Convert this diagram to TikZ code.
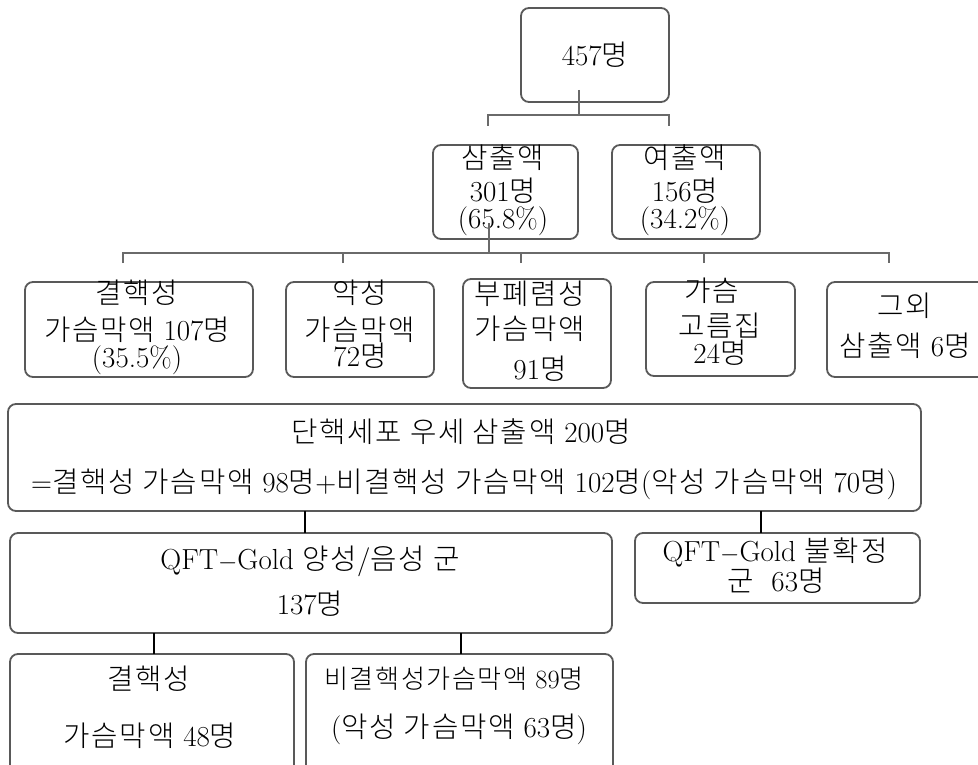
\documentclass[tikz,border=0pt]{standalone}
\usepackage{fontspec}
\newfontfamily\krfont{Noto Sans CJK KR Light}[Scale=0.99,LetterSpace=6]
\newcommand\hk[1]{{\krfont #1}}
\definecolor{boxgray}{HTML}{595959}
\definecolor{conngray}{HTML}{6A6A6A}
\tikzset{
  box/.style={draw=boxgray, line width=1.8pt, rounded corners=8pt, inner sep=0pt, outer sep=0pt},
  txt/.style={inner sep=0pt, anchor=center, text height=19pt, text depth=1pt, font=\fontsize{29}{32}\selectfont},
  conn/.style={draw=conngray, line width=2.2pt},
  connb/.style={draw=black, line width=1.3pt},
}
\begin{document}
\begin{tikzpicture}[x=1pt,y=-1pt]
\useasboundingbox (0,0) rectangle (978,765);
\clip (0,0) rectangle (978,765);
% boxes
\node[box, minimum width=148pt, minimum height=94pt] (b0) at (595,55) {};
\node[box, minimum width=145pt, minimum height=94pt] (b1) at (505.5,192) {};
\node[box, minimum width=148pt, minimum height=94pt] (b2) at (686,192) {};
\node[box, minimum width=228pt, minimum height=95pt] (b3) at (139,329.5) {};
\node[box, minimum width=148pt, minimum height=95pt] (b4) at (360,329.5) {};
\node[box, minimum width=148pt, minimum height=109pt] (b5) at (537,333.5) {};
\node[box, minimum width=149pt, minimum height=94pt] (b6) at (720.5,329) {};
\node[box, minimum width=163pt, minimum height=95pt] (b7) at (908.5,329.5) {};
\node[box, minimum width=913pt, minimum height=107pt] (b8) at (464.5,457.5) {};
\node[box, minimum width=602pt, minimum height=100pt] (b9) at (311,583) {};
\node[box, minimum width=285pt, minimum height=70pt] (b10) at (777.5,568) {};
\node[box, minimum width=284pt, minimum height=126pt] (b11) at (152,717) {};
\node[box, minimum width=307pt, minimum height=126pt] (b12) at (459.5,717) {};
% texts
\node[txt] (t0) at (595,57) {457\hk{명}};
\node[txt] (t1a) at (503,160) {\hk{삼출액}};
\node[txt] (t1b) at (503,193) {301\hk{명}};
\node[txt] (t1c) at (503,220) {(65.8\%)};
\node[txt] (t2a) at (685,160) {\hk{여출액}};
\node[txt] (t2b) at (685,193) {156\hk{명}};
\node[txt] (t2c) at (685,220) {(34.2\%)};
\node[txt] (t3a) at (137,294) {\hk{결핵성}};
\node[txt] (t3b) at (137,331) {\hk{가슴막액} 107\hk{명}};
\node[txt] (t3c) at (137,358) {(35.5\%)};
\node[txt] (t4a) at (360,294) {\hk{악성}};
\node[txt] (t4b) at (360,331) {\hk{가슴막액}};
\node[txt] (t4c) at (360,357) {72\hk{명}};
\node[txt] (t5a) at (530,295) {\hk{부폐렴성}};
\node[txt] (t5b) at (530,330) {\hk{가슴막액}};
\node[txt] (t5c) at (540,370) {91\hk{명}};
\node[txt] (t6a) at (712,292) {\hk{가슴}};
\node[txt] (t6b) at (720,327) {\hk{고름집}};
\node[txt] (t6c) at (720,354) {24\hk{명}};
\node[txt] (t7a) at (905,307) {\hk{그외}};
\node[txt] (t7b) at (905,347) {\hk{삼출액} 6\hk{명}};
\node[txt] (t8a) at (461,433) {\hk{단핵세포 우세 삼출액} 200\hk{명}};
\node[txt] (t8b) at (464,483) {=\hk{결핵성 가슴막액} 98\hk{명}+\hk{비결핵성 가슴막액} 102\hk{명}(\hk{악성 가슴막액} 70\hk{명})};
\node[txt] (t9a) at (310,560) {QFT$-$Gold \hk{양성}/\hk{음성 군}};
\node[txt] (t9b) at (310,605) {137\hk{명}};
\node[txt] (t10a) at (775,552) {QFT$-$Gold \hk{불확정}};
\node[txt] (t10b) at (776,582) {\hk{군}\ \ 63\hk{명}};
\node[txt] (t11a) at (149,680) {\hk{결핵성}};
\node[txt] (t11b) at (150,737) {\hk{가슴막액} 48\hk{명}};
\node[txt, scale=0.91] (t12a) at (454,680) {\hk{비결핵성가슴막액} 89\hk{명}};
\node[txt] (t12b) at (459,728) {(\hk{악성 가슴막액} 63\hk{명})};
% connector points
\coordinate (j0) at (579,115);
\coordinate (k1) at (488,126);
\coordinate (k2) at (669,126);
\coordinate (j1) at (489,253);
\coordinate (k3) at (123,263);
\coordinate (k4) at (343,263);
\coordinate (k5) at (521,263);
\coordinate (k6) at (704,263);
\coordinate (k7) at (889,263);
\coordinate (k8) at (305,0);
\coordinate (k9) at (761,0);
\coordinate (k10) at (154,0);
\coordinate (k11) at (461,0);
% connectors
\draw[conn] (j0 |- b0.south) ++(0,-12) -- (j0);
\draw[conn] (k1) -- (k1 |- j0) -- (k2 |- j0) -- (k2);
\draw[conn] (j1 |- b1.south) ++(0,-16) -- (j1);
\draw[conn] (k3) -- (k3 |- j1) -- (k7 |- j1) -- (k7);
\draw[conn] (k4) -- (k4 |- j1);
\draw[conn] (k5) -- (k5 |- j1);
\draw[conn] (k6) -- (k6 |- j1);
\draw[connb] (b8.south -| k8) -- (b9.north -| k8);
\draw[connb] (b8.south -| k9) -- (b10.north -| k9);
\draw[connb] (b9.south -| k10) -- (b11.north -| k10);
\draw[connb] (b9.south -| k11) -- (b12.north -| k11);
\end{tikzpicture}
\end{document}
